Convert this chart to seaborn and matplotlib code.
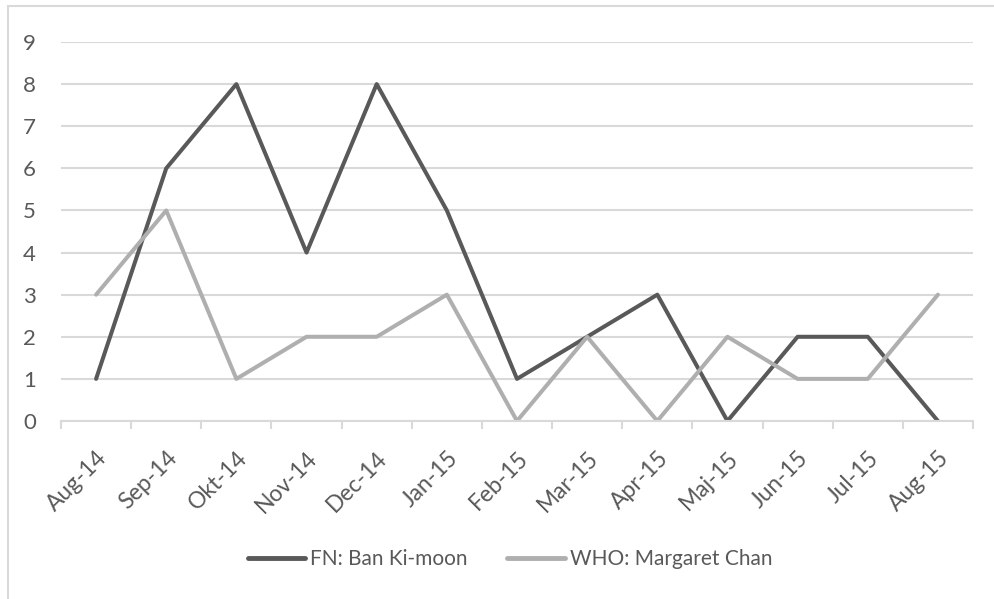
import pandas as pd
import numpy as np
import matplotlib.pyplot as plt
import matplotlib.patches as mpatches
import seaborn as sns

months = ['Aug-14', 'Sep-14', 'Okt-14', 'Nov-14', 'Dec-14', 'Jan-15', 'Feb-15',
          'Mar-15', 'Apr-15', 'Maj-15', 'Jun-15', 'Jul-15', 'Aug-15']
fn_ban = [1, 6, 8, 4, 8, 5, 1, 2, 3, 0, 2, 2, 0]
who_chan = [3, 5, 1, 2, 2, 3, 0, 2, 0, 2, 1, 1, 3]
series_names = ['FN: Ban Ki-moon', 'WHO: Margaret Chan']

df = pd.DataFrame({
    'month': months * 2,
    'value': fn_ban + who_chan,
    'series': [series_names[0]] * len(months) + [series_names[1]] * len(months),
})

sns.set_theme(style='white')
plt.rcParams['font.family'] = ['Lato', 'DejaVu Sans']
text_col = '#595959'
grid_col = '#D9D9D9'

fig = plt.figure(figsize=(9.95, 5.99), dpi=100)
ax = fig.add_axes([61 / 995, 1 - 421 / 599, 912 / 995, 379 / 599])

sns.lineplot(data=df, x='month', y='value', hue='series', sort=False,
             palette=['#595959', '#AFAFAF'], linewidth=2.9, ax=ax, legend=False)

ax.set_xlim(-0.5, len(months) - 0.5)
ax.set_ylim(0, 9)
ax.set_yticks(range(0, 10))
ax.set_xticks(range(len(months)))
ax.set_xticklabels(months, rotation=45, ha='right', rotation_mode='anchor')
ax.set_xticks(np.arange(-0.5, len(months)), minor=True)
ax.tick_params(axis='x', which='major', length=0, pad=19, labelsize=16.5, colors=text_col)
ax.tick_params(axis='x', which='minor', length=6, width=1.5, color=grid_col, direction='out', bottom=True)
ax.tick_params(axis='y', length=0, pad=18, labelsize=16, colors=text_col)
ax.set_xlabel('')
ax.set_ylabel('')

ax.grid(axis='y', color=grid_col, linewidth=1.5)
ax.set_axisbelow(True)
for s in ['top', 'right', 'left']:
    ax.spines[s].set_visible(False)
ax.spines['bottom'].set_color(grid_col)
ax.spines['bottom'].set_linewidth(1.5)

handles = [plt.Line2D([], [], color='#595959', lw=3.5, solid_capstyle='round'),
           plt.Line2D([], [], color='#AFAFAF', lw=3.5, solid_capstyle='round')]
fig.legend(handles, series_names, loc='center', bbox_to_anchor=(0.5126, 1 - 559 / 599),
           ncol=2, frameon=False, fontsize=15, handlelength=2.75, handletextpad=0.25,
           columnspacing=1.9, labelcolor=text_col)

border = mpatches.Rectangle((8 / 995, -0.05), 1.1, 1 - 6 / 599 + 0.05, transform=fig.transFigure,
                            fill=False, edgecolor=grid_col, linewidth=1.5)
fig.patches.append(border)

fig.savefig('out.png', dpi=100)
